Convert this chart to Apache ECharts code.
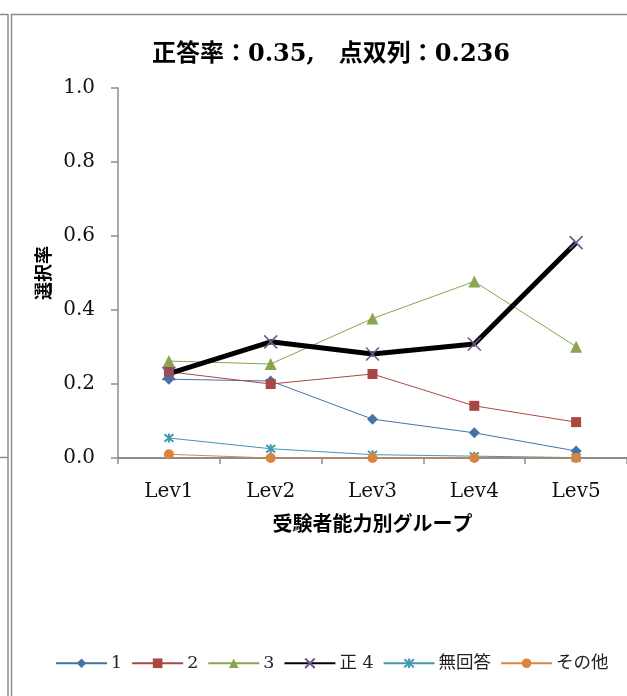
<!DOCTYPE html>
<html>
<head>
<meta charset="utf-8">
<script src="https://cdn.jsdelivr.net/npm/echarts@6/dist/echarts.min.js"></script>
<style>html,body{margin:0;padding:0;background:#fff}#c{width:627px;height:696px}</style>
</head>
<body>
<div id="c"></div>
<script>
var categories = ['Lev1', 'Lev2', 'Lev3', 'Lev4', 'Lev5'];
var seriesNames = ['1', '2', '3', '正 4', '無回答', 'その他'];
var s1 = [0.213, 0.208, 0.105, 0.068, 0.019];
var s2 = [0.233, 0.200, 0.227, 0.141, 0.097];
var s3 = [0.262, 0.254, 0.377, 0.477, 0.301];
var s4 = [0.228, 0.314, 0.281, 0.308, 0.582];
var sNo = [0.054, 0.025, 0.009, 0.005, 0.001];
var sOther = [0.010, 0.000, 0.000, 0.000, 0.000];
var yTicks = [0, 0.2, 0.4, 0.6, 0.8, 1.0];

var serifFont = '"DejaVu Serif", "Liberation Serif", "Noto Sans CJK JP", serif';
var chart = echarts.init(document.getElementById('c'));
var gray = '#8c8c8c';

function lineSeries(name, data, color, symbol, size, extra) {
  var s = {
    name: name, type: 'line', data: data, symbol: symbol, symbolSize: size,
    lineStyle: { color: color, width: 1 },
    itemStyle: { color: color },
    emphasis: { disabled: true },
    animation: false
  };
  if (extra) Object.keys(extra).forEach(function (k) { s[k] = extra[k]; });
  return s;
}

var option = {
  animation: false,
  title: {
    text: '正答率：0.35,　点双列：0.236',
    left: 326, top: 38, textAlign: 'center',
    textStyle: { fontFamily: serifFont, fontSize: 24, fontWeight: 'bold', color: '#000' }
  },
  legend: {
    bottom: 19, left: 50,
    itemWidth: 51, itemHeight: 12, itemGap: 9,
    textStyle: { fontFamily: serifFont, fontSize: 17.5, color: '#222', padding: [0, 0, 0, -1] },
    data: seriesNames
  },
  grid: { left: 118, top: 88, right: -9, bottom: 238, containLabel: false },
  xAxis: {
    type: 'category', data: categories, boundaryGap: true,
    axisLine: { lineStyle: { color: gray, width: 2 } },
    axisTick: { show: true, length: 6, alignWithLabel: false, lineStyle: { color: gray, width: 1.5 } },
    axisLabel: { margin: 24, fontFamily: serifFont, fontSize: 20, color: '#111' },
    name: '受験者能力別グループ', nameLocation: 'middle', nameGap: 55,
    nameTextStyle: { fontFamily: '"Noto Sans CJK JP", sans-serif', fontSize: 20, fontWeight: 'bold', color: '#000' }
  },
  yAxis: {
    type: 'value', min: 0, max: 1.0, interval: 0.2,
    axisLine: { show: true, lineStyle: { color: gray, width: 1.5 } },
    axisTick: { show: true, length: 7, lineStyle: { color: gray, width: 1.5 } },
    splitLine: { show: false },
    axisLabel: {
      margin: 23, fontFamily: serifFont, fontSize: 20, color: '#111',
      formatter: function (v) { return v.toFixed(1); }
    },
    name: '選択率', nameLocation: 'middle', nameGap: 66,
    nameTextStyle: { fontFamily: '"Noto Sans CJK JP", sans-serif', fontSize: 18, fontWeight: 'bold', color: '#000' }
  },
  graphic: [
    { type: 'line', shape: { x1: 8, y1: 14, x2: 8, y2: 696 }, style: { stroke: gray, lineWidth: 1.5 } },
    { type: 'line', shape: { x1: 11.5, y1: 14, x2: 11.5, y2: 696 }, style: { stroke: gray, lineWidth: 1.5 } },
    { type: 'line', shape: { x1: 0, y1: 14.5, x2: 8, y2: 14.5 }, style: { stroke: gray, lineWidth: 1.5 } },
    { type: 'line', shape: { x1: 11, y1: 14.5, x2: 627, y2: 14.5 }, style: { stroke: gray, lineWidth: 1.5 } },
    { type: 'line', shape: { x1: 0, y1: 457.5, x2: 8, y2: 457.5 }, style: { stroke: gray, lineWidth: 1.5 } }
  ],
  series: [
    lineSeries(seriesNames[0], s1, '#4572A7', 'diamond', 11),
    lineSeries(seriesNames[1], s2, '#AA4643', 'rect', 10),
    lineSeries(seriesNames[2], s3, '#89A54E', 'triangle', 12),
    lineSeries(seriesNames[3], s4, '#71588F', 'path://M0,0L10,10M10,0L0,10', 13, {
      lineStyle: { color: '#000', width: 5 },
      itemStyle: { color: 'none', borderColor: '#71588F', borderWidth: 1.6 }
    }),
    lineSeries(seriesNames[4], sNo, '#4198AF', 'path://M0,0L10,10M10,0L0,10M5,-1L5,11', 9, {
      itemStyle: { color: 'none', borderColor: '#4198AF', borderWidth: 2 }
    }),
    lineSeries(seriesNames[5], sOther, '#DB843D', 'circle', 10)
  ]
};
chart.setOption(option);
</script>
</body>
</html>
